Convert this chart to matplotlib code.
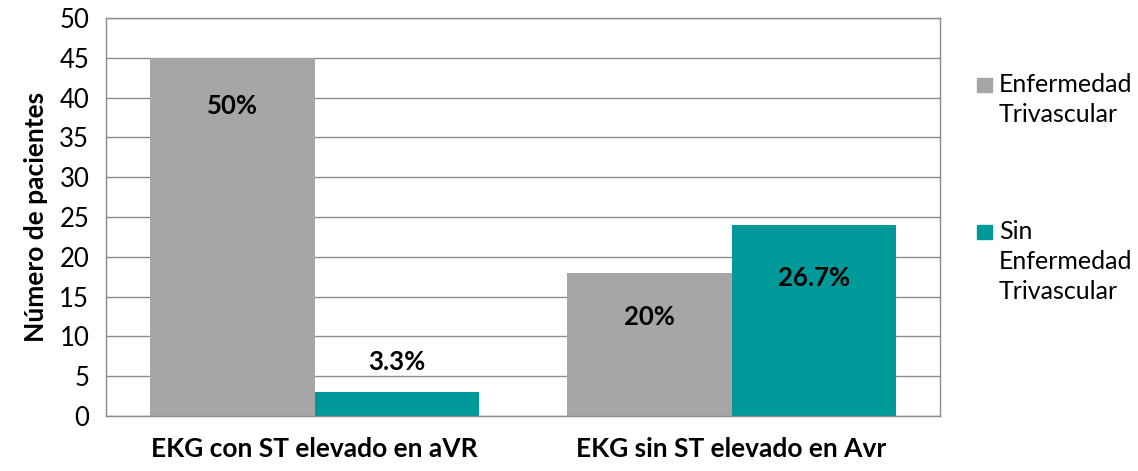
import matplotlib
matplotlib.use("Agg")
import matplotlib.pyplot as plt
from matplotlib.patches import Rectangle
import numpy as np

plt.rcParams['font.family'] = ['Lato', 'DejaVu Sans']

categories = ["EKG con ST elevado en aVR", "EKG sin ST elevado en Avr"]
series_names = ["Enfermedad\nTrivascular", "Sin\nEnfermedad\nTrivascular"]
trivascular = [45, 18]
sin_trivascular = [3, 24]
pct_trivascular = ["50%", "20%"]
pct_sin = ["3.3%", "26.7%"]
colors = ["#A6A6A6", "#009999"]

fig = plt.figure(figsize=(11.38, 4.71), dpi=100)
ax = fig.add_axes([106/1138, 55/471, 834/1138, 398/471])

x = np.arange(len(categories))
w = 0.394
b1 = ax.bar(x - w/2, trivascular, w, color=colors[0], zorder=2)
b2 = ax.bar(x + w/2, sin_trivascular, w, color=colors[1], zorder=2)

# label offsets (points) relative to bar top
off1 = [-35, -32]
off2 = [22, -38]
for rect, lab, o in zip(b1, pct_trivascular, off1):
    ax.annotate(lab, (rect.get_x() + rect.get_width()/2, rect.get_height()),
                xytext=(0, o), textcoords="offset points", ha="center", va="center",
                fontsize=18.5, fontweight="bold", color="black", zorder=3)
for rect, lab, o in zip(b2, pct_sin, off2):
    ax.annotate(lab, (rect.get_x() + rect.get_width()/2, rect.get_height()),
                xytext=(0, o), textcoords="offset points", ha="center", va="center",
                fontsize=18.5, fontweight="bold", color="black", zorder=3)

ax.set_xlim(-0.5, 1.5)
ax.set_ylim(0, 50)
ax.set_yticks(np.arange(0, 51, 5))
ax.yaxis.grid(True, color="#8C8C8C", linewidth=1.0, zorder=0)
ax.set_axisbelow(True)
ax.set_xticks(x)
ax.set_xticklabels(categories, fontsize=19, fontweight="bold")
ax.tick_params(axis="x", length=0, pad=15)
ax.tick_params(axis="y", length=0, pad=12, labelsize=18.5)
for s in ax.spines.values():
    s.set_color("#8C8C8C")
    s.set_linewidth(1.0)
ax.set_ylabel("Número de pacientes", fontsize=19, fontweight="bold", labelpad=8)

# legend drawn manually
leg_sq = [85/471, 232/471]
for name, c, yy in zip(series_names, colors, leg_sq):
    fig.patches.append(Rectangle((977/1138, 1 - yy - 7/471), 15/1138, 14/471,
                                 transform=fig.transFigure, color=c, figure=fig))
    fig.text(999/1138, 1 - yy + 12/471, name, fontsize=18, va="top", ha="left",
             linespacing=1.38)

fig.savefig("out.png", dpi=100)
